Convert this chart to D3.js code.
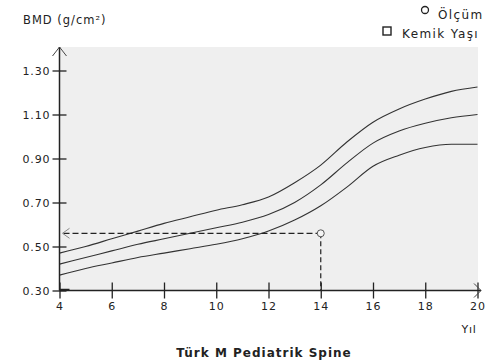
<!DOCTYPE html>
<html><head><meta charset="utf-8">
<script src="https://cdn.jsdelivr.net/npm/d3@7/dist/d3.min.js"></script>
<style>body{margin:0;background:#fff}svg{display:block}text{font-family:"DejaVu Sans",sans-serif;fill:#222}</style>
</head><body>
<script>
const years = [4,5,6,7,8,9,10,11,12,13,14,15,16,17,18,19,20];
const upper = [0.47,0.50,0.535,0.57,0.605,0.635,0.665,0.69,0.725,0.79,0.87,0.975,1.065,1.125,1.17,1.205,1.225];
const middle = [0.42,0.45,0.48,0.51,0.535,0.56,0.585,0.61,0.645,0.70,0.78,0.88,0.97,1.025,1.06,1.085,1.10];
const lower = [0.37,0.40,0.425,0.45,0.47,0.49,0.51,0.535,0.57,0.62,0.685,0.77,0.865,0.915,0.95,0.965,0.965];
const xTicks = [4,6,8,10,12,14,16,18,20];
const yTicks = [0.30,0.50,0.70,0.90,1.10,1.30];
const measureAge = 14, measureBMD = 0.56;
const yLabel = "BMD (g/cm²)", xLabel = "Yıl", title = "Türk M Pediatrik Spine";
const legend = ["Ölçüm","Kemik Yaşı"];

const W=493,H=364;
const svg=d3.select("body").append("svg").attr("width",W).attr("height",H);
const x=d3.scaleLinear().domain([4,20]).range([59.5,477.5]);
const y=d3.scaleLinear().domain([0.30,1.30]).range([290.5,70.5]);

svg.append("rect").attr("x",60).attr("y",47).attr("width",418).attr("height",243).attr("fill","#efefef");

const line=d3.line().x((d,i)=>x(years[i])).y(d=>y(d)).curve(d3.curveMonotoneX);
[upper,middle,lower].forEach(s=>svg.append("path").attr("d",line(s)).attr("fill","none").attr("stroke","#333").attr("stroke-width",1.1));

// dashed measurement lines
svg.append("line").attr("x1",x(4)+4).attr("x2",x(measureAge)).attr("y1",y(measureBMD)).attr("y2",y(measureBMD))
  .attr("stroke","#222").attr("stroke-width",1.2).attr("stroke-dasharray","6,3");
svg.append("line").attr("x1",x(measureAge)).attr("x2",x(measureAge)).attr("y1",y(measureBMD)).attr("y2",y(0.30))
  .attr("stroke","#222").attr("stroke-width",1.2).attr("stroke-dasharray","5,3");
// left arrowhead
svg.append("path").attr("d",`M${x(4)+10},${y(measureBMD)-5}L${x(4)+3},${y(measureBMD)}L${x(4)+10},${y(measureBMD)+5}`)
  .attr("fill","none").attr("stroke","#888").attr("stroke-width",1);
svg.append("circle").attr("cx",x(measureAge)).attr("cy",y(measureBMD)).attr("r",3.5).attr("fill","#f4f4f4").attr("stroke","#555").attr("stroke-width",1);

// axes
const yAxis=d3.axisLeft(y).tickValues(yTicks).tickFormat(d3.format(".2f")).tickSize(0).tickPadding(9);
const gy=svg.append("g").attr("transform",`translate(${x(4)},0)`).call(yAxis);
gy.select(".domain").remove();
gy.selectAll("text").attr("font-size",11).style("letter-spacing","0.9px").attr("fill","#222");
gy.selectAll(".tick").append("line").attr("x1",-7).attr("x2",7).attr("stroke","#222").attr("stroke-width",1.3);
svg.append("line").attr("x1",x(4)).attr("x2",x(4)).attr("y1",y(0.30)).attr("y2",47).attr("stroke","#222").attr("stroke-width",1.5);
svg.append("path").attr("d",`M${x(4)-7},56L${x(4)},47L${x(4)+7},56`).attr("fill","none").attr("stroke","#444").attr("stroke-width",1);

const xAxis=d3.axisBottom(x).tickValues(xTicks).tickFormat(d3.format("d")).tickSize(0).tickPadding(12);
const gx=svg.append("g").attr("transform",`translate(0,${y(0.30)})`).call(xAxis);
gx.select(".domain").remove();
gx.selectAll("text").attr("font-size",11).style("letter-spacing","0.9px").attr("fill","#222");
gx.selectAll(".tick").append("line").attr("y1",-8).attr("y2",8).attr("stroke","#222").attr("stroke-width",1.3);
svg.append("line").attr("x1",x(4)).attr("x2",481).attr("y1",y(0.30)).attr("y2",y(0.30)).attr("stroke","#222").attr("stroke-width",1.5);
svg.append("line").attr("x1",x(4)).attr("x2",x(4)+10).attr("y1",y(0.30)-1).attr("y2",y(0.30)-1).attr("stroke","#222").attr("stroke-width",1.5);
svg.append("path").attr("d",`M474,${y(0.30)-7}L481,${y(0.30)}L474,${y(0.30)+7}`).attr("fill","none").attr("stroke","#444").attr("stroke-width",1);

svg.append("text").attr("x",469).attr("y",333).attr("text-anchor","middle").attr("font-size",11).style("letter-spacing","0.8px").text(xLabel);
svg.append("text").attr("x",23).attr("y",24).attr("font-size",11.5).style("letter-spacing","1px").text(yLabel);
svg.append("text").attr("x",264).attr("y",357).attr("text-anchor","middle").attr("font-size",12).attr("font-weight","bold")
  .style("letter-spacing","1px").text(title);

// legend
svg.append("circle").attr("cx",425).attr("cy",10).attr("r",3.5).attr("fill","#fff").attr("stroke","#222").attr("stroke-width",1.3);
svg.append("text").attr("x",438).attr("y",19).attr("font-size",12).style("letter-spacing","1.4px").text(legend[0]);
svg.append("rect").attr("x",383).attr("y",27).attr("width",8).attr("height",8).attr("fill","#fff").attr("stroke","#222").attr("stroke-width",1.4);
svg.append("text").attr("x",402).attr("y",38).attr("font-size",12).style("letter-spacing","1.4px").text(legend[1]);
</script>
</body></html>
